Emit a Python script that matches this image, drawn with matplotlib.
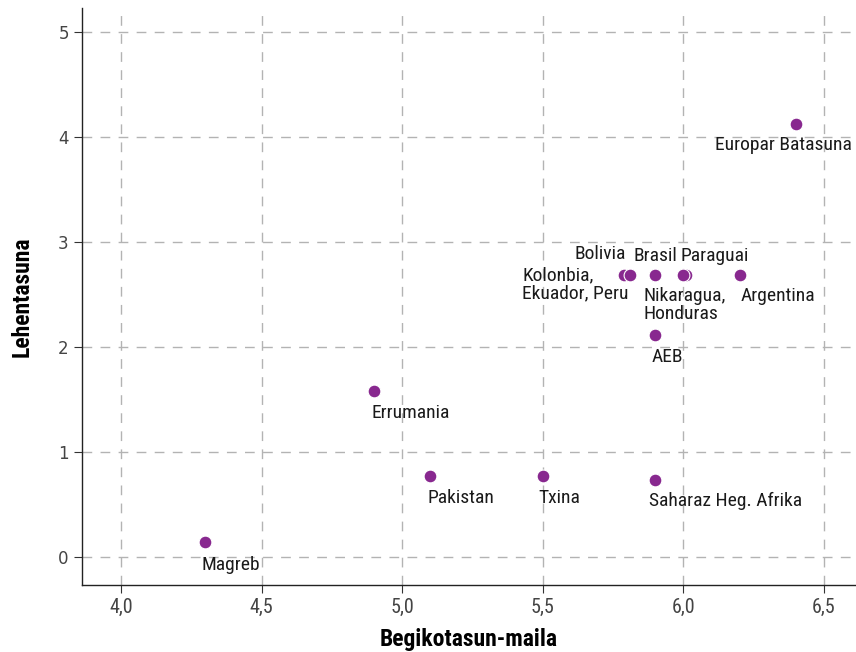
import matplotlib
matplotlib.use("Agg")
import matplotlib.pyplot as plt

# data
names = ["Europar Batasuna", "Bolivia", "Kolonbia,\nEkuador, Peru", "Brasil",
         "Paraguai", "Nikaragua,\nHonduras", "Argentina", "AEB", "Errumania",
         "Pakistan", "Txina", "Saharaz Heg. Afrika", "Magreb"]
equality = [6.40, 5.79, 5.81, 5.90, 6.01, 6.00, 6.20, 5.90, 4.90, 5.10, 5.50, 5.90, 4.30]
priority = [4.12, 2.69, 2.69, 2.69, 2.69, 2.69, 2.69, 2.11, 1.58, 0.77, 0.77, 0.73, 0.14]

# label placement: (dx, dy) in pixels, ha, va
label_pos = [(-81, -12, "left", "top"), (2, 12, "right", "bottom"),
             (-1, 8, "right", "top"), (-22, 10, "left", "bottom"),
             (-6, 10, "left", "bottom"), (-40, -12, "left", "top"),
             (1, -12, "left", "top"), (-4, -13, "left", "top"),
             (-3, -13, "left", "top"), (-3, -13, "left", "top"),
             (-4, -13, "left", "top"), (-6, -12, "left", "top"),
             (-4, -14, "left", "top")]

narrow = ["Roboto Condensed", "Barlow Semi Condensed", "Archivo Narrow", "DejaVu Sans"]
purple = "#88288f"

fig = plt.figure(figsize=(8.56, 6.52), dpi=100)
ax = fig.add_axes([0.0958, 0.1028, 0.9042, 0.885])

ax.scatter(equality, priority, s=85, color=purple, edgecolor="white", linewidth=0.8, zorder=3)
for name, x, y, (dx, dy, ha, va) in zip(names, equality, priority, label_pos):
    ax.annotate(name, (x, y), xytext=(dx, dy), textcoords="offset pixels",
                ha=ha, va=va, fontsize=14, family=narrow, color="#1a1a1a",
                linespacing=1.0, multialignment="left", zorder=4)

ax.set_xlim(3.861, 6.614)
ax.set_ylim(-0.267, 5.23)
ax.set_xticks([4.0, 4.5, 5.0, 5.5, 6.0, 6.5])
ax.set_xticklabels(["4,0", "4,5", "5,0", "5,5", "6,0", "6,5"], family=narrow, fontsize=14.5, color="#444444")
ax.set_yticks([0, 1, 2, 3, 4, 5])
ax.tick_params(axis="y", labelsize=12, labelcolor="#444444")
ax.tick_params(length=6, width=0.8, color="#333333")
ax.grid(True, linestyle=(0, (7, 6)), color="#b3b3b3", linewidth=1.0)
ax.set_axisbelow(True)
for side in ["top", "right"]:
    ax.spines[side].set_visible(False)
for side in ["left", "bottom"]:
    ax.spines[side].set_linewidth(1.0)
    ax.spines[side].set_color("#222222")

ax.set_xlabel("Begikotasun-maila", family=narrow, fontsize=17, fontweight="bold", labelpad=8)
ax.set_ylabel("Lehentasuna", family=narrow, fontsize=17, fontweight="bold", labelpad=18)

fig.savefig("out.png", dpi=100)
